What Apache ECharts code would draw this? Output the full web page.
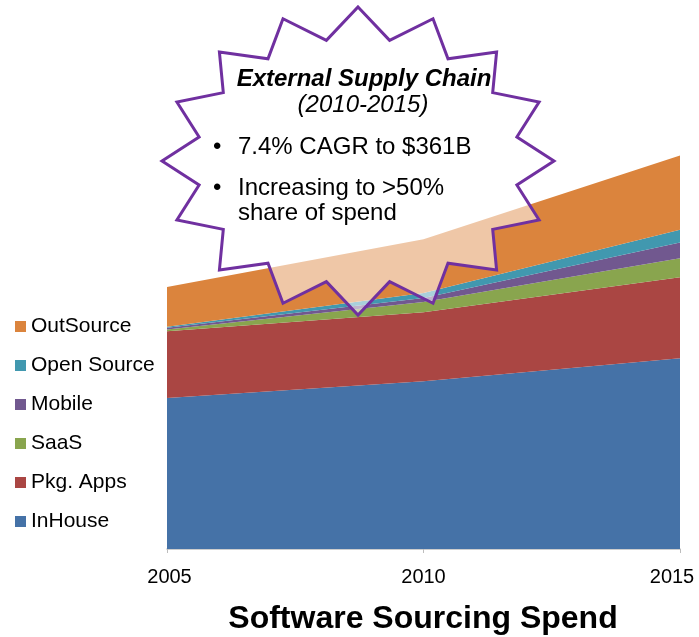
<!DOCTYPE html>
<html>
<head>
<meta charset="utf-8">
<script src="https://cdn.jsdelivr.net/npm/echarts@6/dist/echarts.min.js"></script>
<style>html,body{margin:0;padding:0;background:#fff;}#c{width:699px;height:637px;}</style>
</head>
<body>
<div id="c"></div>
<script>
const years = ['2005', '2010', '2015'];
const inHouse = [269, 299, 340];
const pkgApps = [119, 123, 144];
const saas = [3, 18, 34];
const mobile = [3, 7, 28];
const openSource = [2, 9, 23];
const outSource = [71, 96, 132];
const seriesNames = ['InHouse', 'Pkg. Apps', 'SaaS', 'Mobile', 'Open Source', 'OutSource'];
const seriesColors = ['#4572A7', '#AA4643', '#89A54E', '#71588F', '#4198AF', '#DB843D'];
const seriesValues = [inHouse, pkgApps, saas, mobile, openSource, outSource];
const titleText = 'Software Sourcing Spend';
const calloutTitle = 'External Supply Chain';
const calloutSub = '(2010-2015)';
const bullet1 = '7.4% CAGR to $361B';
const bullet2a = 'Increasing to >50%';
const bullet2b = 'share of spend';

const FONT = '"Liberation Sans", Arial, sans-serif';

// 16-point star callout geometry
const cx = 358, cy = 161, rxO = 196, ryO = 154, rxI = 162, ryI = 123;
const starPts = [];
for (let i = 0; i < 32; i++) {
  const a = i * Math.PI / 16;
  const outer = i % 2 === 0;
  const rx = outer ? rxO : rxI, ry = outer ? ryO : ryI;
  starPts.push([cx + rx * Math.sin(a), cy - ry * Math.cos(a)]);
}

const chart = echarts.init(document.getElementById('c'));
chart.setOption({
  backgroundColor: '#fff',
  animation: false,
  title: {
    text: titleText,
    left: 418, textAlign: 'center',
    top: 598,
    textStyle: { fontFamily: FONT, fontSize: 32, fontWeight: 'bold', color: '#000' }
  },
  legend: {
    orient: 'vertical',
    left: 10, top: 311,
    icon: 'rect', itemWidth: 11, itemHeight: 11, itemGap: 18,
    data: seriesNames.slice().reverse(),
    textStyle: { fontFamily: FONT, fontSize: 21, color: '#000', padding: [0, 0, 0, 0] }
  },
  grid: { left: 167, right: 19, top: 100, bottom: 88 },
  xAxis: {
    type: 'category', data: years, boundaryGap: false,
    axisLine: { lineStyle: { color: '#BDBDBD', width: 1.5 } },
    axisTick: { show: true, length: 4, lineStyle: { color: '#BDBDBD' } },
    axisLabel: {
      interval: 0, margin: 18, showMinLabel: true, showMaxLabel: true,
      fontFamily: FONT, fontSize: 20, color: '#000',
      formatter: function (v, i) { return i === 2 ? '{r|' + v + '}' : (i === 0 ? '{l|' + v + '}' : v); },
      rich: {
        r: { fontFamily: FONT, fontSize: 20, color: '#000', padding: [0, 16, 0, 0] },
        l: { fontFamily: FONT, fontSize: 20, color: '#000', padding: [0, 0, 0, 5] }
      }
    }
  },
  yAxis: { type: 'value', min: 0, max: 800, show: false, splitLine: { show: false } },
  series: seriesNames.map((n, k) => ({
    name: n, type: 'line', stack: 'total', data: seriesValues[k],
    symbol: 'none', lineStyle: { width: 0 },
    itemStyle: { color: seriesColors[k] },
    areaStyle: { color: seriesColors[k], opacity: 1 }
  })),
  graphic: [
    {
      type: 'polygon', z: 100,
      shape: { points: starPts },
      style: { fill: 'rgba(255,255,255,0.55)', stroke: '#7030A0', lineWidth: 3, lineJoin: 'miter' }
    },
    { type: 'text', z: 101, x: 364, y: 79,
      style: { text: calloutTitle, font: 'italic bold 24px ' + FONT, fill: '#000', align: 'center', verticalAlign: 'middle' } },
    { type: 'text', z: 101, x: 363, y: 105,
      style: { text: calloutSub, font: 'italic 24px ' + FONT, fill: '#000', align: 'center', verticalAlign: 'middle' } },
    { type: 'text', z: 101, x: 213, y: 147,
      style: { text: '\u2022', font: '24px ' + FONT, fill: '#000', verticalAlign: 'middle' } },
    { type: 'text', z: 101, x: 238, y: 147,
      style: { text: bullet1, font: '24px ' + FONT, fill: '#000', verticalAlign: 'middle' } },
    { type: 'text', z: 101, x: 213, y: 188,
      style: { text: '\u2022', font: '24px ' + FONT, fill: '#000', verticalAlign: 'middle' } },
    { type: 'text', z: 101, x: 238, y: 188,
      style: { text: bullet2a, font: '24px ' + FONT, fill: '#000', verticalAlign: 'middle' } },
    { type: 'text', z: 101, x: 238, y: 213,
      style: { text: bullet2b, font: '24px ' + FONT, fill: '#000', verticalAlign: 'middle' } }
  ]
});
</script>
</body>
</html>
